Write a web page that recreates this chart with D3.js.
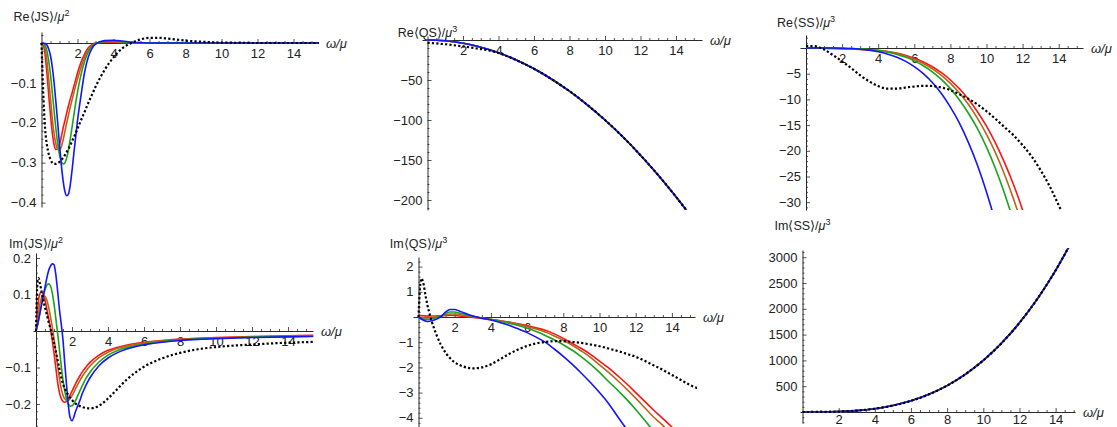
<!DOCTYPE html>
<html><head><meta charset="utf-8">
<script src="https://cdn.jsdelivr.net/npm/d3@7"></script>
<style>
body{margin:0;background:#fff;}
svg text{font-family:"Liberation Sans",Arial,sans-serif;}
</style></head><body>
<svg id="c" width="1117" height="427"></svg>
<script>
// ---------- DATA ----------
// Re<JS>/mu^2
const wReJS = [0,0.1,0.2,0.3,0.4,0.5,0.6,0.7,0.8,0.9,1.0,1.1,1.2,1.3,1.4,1.5,1.6,1.7,1.8,1.9,2.0,2.2,2.4,2.6,2.8,3.0,3.5,4,4.5,5,5.5,6,6.5,7,8,9,10,12,15.4];
const reJS_red   = [0,-0.005,-0.03,-0.075,-0.13,-0.18,-0.225,-0.255,-0.267,-0.266,-0.255,-0.235,-0.213,-0.195,-0.175,-0.157,-0.14,-0.125,-0.108,-0.092,-0.075,-0.048,-0.027,-0.012,-0.004,0.0,0.002,0.002,0.001,0,0,0,0,0,0,0,0,0,0];
const reJS_brown = [0,-0.002,-0.015,-0.045,-0.09,-0.14,-0.19,-0.228,-0.253,-0.266,-0.268,-0.26,-0.243,-0.222,-0.2,-0.18,-0.16,-0.142,-0.124,-0.106,-0.09,-0.06,-0.035,-0.018,-0.007,-0.001,0.003,0.003,0.002,0.001,0,0,0,0,0,0,0,0,0];
const reJS_green = [0,-0.001,-0.006,-0.02,-0.045,-0.08,-0.125,-0.17,-0.215,-0.252,-0.28,-0.297,-0.303,-0.3,-0.288,-0.267,-0.24,-0.21,-0.18,-0.15,-0.123,-0.078,-0.045,-0.022,-0.009,-0.002,0.004,0.005,0.003,0.001,0,0,0,0,0,0,0,0,0];
const reJS_blue  = [0,0,-0.001,-0.005,-0.015,-0.032,-0.06,-0.1,-0.148,-0.2,-0.255,-0.305,-0.345,-0.372,-0.383,-0.378,-0.355,-0.318,-0.275,-0.235,-0.195,-0.13,-0.072,-0.035,-0.014,-0.003,0.006,0.007,0.005,0.002,0.001,0,0,0,0,0,0,0,0];
const reJS_black = [0,-0.13,-0.215,-0.255,-0.278,-0.292,-0.3,-0.303,-0.303,-0.301,-0.298,-0.293,-0.288,-0.281,-0.273,-0.265,-0.256,-0.246,-0.236,-0.226,-0.215,-0.193,-0.172,-0.15,-0.13,-0.11,-0.068,-0.036,-0.013,0.0,0.009,0.013,0.013,0.011,0.006,0.003,0.001,0,0];

// Re<QS>/mu^3
const wReQS = [0,0.5,1,1.5,2,2.5,3,3.5,4,5,6,7,8,9,10,11,12,13,14,15,15.4];
const reQS_solid = [0,-0.25,-1,-2.25,-4,-6.25,-9,-12.25,-16,-25,-36,-49,-64,-81,-100,-121,-144,-169,-196,-225,-237];
const reQS_black = [-3.5,-4.3,-5.3,-6.6,-8.0,-9.6,-11.3,-13.2,-16.2,-25.1,-36,-49,-64,-81,-100,-121,-144,-169,-196,-225,-237];

// Re<SS>/mu^3
const wReSS = [0,0.5,1,1.5,2,2.5,3,3.5,4,4.5,5,5.5,6,6.5,7,7.5,8,8.5,9,9.5,10,10.5,11,11.5,12,12.5,13,13.5,14,14.5,15,15.5];
const reSS_red   = [0,-0.02,-0.06,-0.1,-0.15,-0.2,-0.26,-0.35,-0.48,-0.68,-0.98,-1.4,-1.97,-2.71,-3.65,-4.81,-6.23,-7.93,-9.97,-12.4,-15.2,-18.5,-22.3,-26.6,-31.5,-37.1,-43.4,-50.5,-58.4,-67.2,-77,-87.8];
const reSS_brown = [0,-0.02,-0.05,-0.08,-0.12,-0.17,-0.23,-0.33,-0.47,-0.71,-1.05,-1.54,-2.18,-3.0,-4.03,-5.32,-6.88,-8.77,-11.0,-13.7,-16.8,-20.4,-24.6,-29.4,-34.8,-41,-48,-55.8,-64.5,-74.3,-85,-97];
const reSS_green = [0,-0.01,-0.02,-0.04,-0.07,-0.11,-0.17,-0.29,-0.49,-0.79,-1.21,-1.77,-2.5,-3.45,-4.63,-6.11,-7.9,-10.1,-12.7,-15.7,-19.3,-23.5,-28.3,-33.8,-40,-47.1,-55.1,-64,-74,-85,-97.7,-111];
const reSS_blue  = [0,0,0,-0.01,-0.04,-0.1,-0.23,-0.42,-0.72,-1.15,-1.75,-2.56,-3.63,-5.0,-6.72,-8.86,-11.5,-14.6,-18.4,-22.8,-28.0,-34.0,-41.0,-49,-58,-68,-80,-93,-108,-124,-142,-161];
const reSS_black = [0.4,0.35,-0.3,-1.4,-2.6,-3.9,-5.3,-6.5,-7.4,-7.9,-7.9,-7.7,-7.5,-7.35,-7.4,-7.7,-8.2,-9.0,-9.9,-11,-12.3,-13.8,-15.4,-17,-18.9,-21.1,-23.8,-26.9,-30.6,-34.5,-39,-44];

// Im<JS>/mu^2
const wImJS = [0,0.05,0.1,0.15,0.2,0.3,0.4,0.5,0.6,0.7,0.8,0.9,1.0,1.1,1.2,1.3,1.4,1.5,1.6,1.7,1.8,1.9,2.0,2.2,2.4,2.6,2.8,3.0,3.5,4,4.5,5,6,7,8,9,10,12,14,15.4];
const imJS_red   = [0,0.035,0.065,0.088,0.1,0.107,0.1,0.085,0.06,0.035,0.008,-0.025,-0.06,-0.1,-0.14,-0.168,-0.185,-0.193,-0.195,-0.192,-0.185,-0.175,-0.165,-0.144,-0.126,-0.11,-0.097,-0.086,-0.066,-0.053,-0.045,-0.039,-0.031,-0.026,-0.022,-0.02,-0.018,-0.015,-0.013,-0.012];
const imJS_brown = [0,0.018,0.035,0.053,0.07,0.09,0.097,0.095,0.085,0.065,0.04,0.012,-0.02,-0.055,-0.095,-0.13,-0.158,-0.176,-0.186,-0.19,-0.19,-0.185,-0.177,-0.158,-0.139,-0.122,-0.108,-0.096,-0.073,-0.058,-0.048,-0.042,-0.033,-0.027,-0.023,-0.021,-0.019,-0.016,-0.014,-0.013];
const imJS_green = [0,0.01,0.02,0.032,0.045,0.07,0.095,0.113,0.125,0.129,0.124,0.105,0.075,0.035,-0.005,-0.05,-0.095,-0.135,-0.165,-0.188,-0.2,-0.206,-0.205,-0.19,-0.168,-0.147,-0.128,-0.113,-0.085,-0.066,-0.054,-0.046,-0.036,-0.029,-0.025,-0.022,-0.02,-0.017,-0.015,-0.014];
const imJS_blue  = [0,0.01,0.02,0.032,0.045,0.07,0.095,0.12,0.145,0.165,0.178,0.184,0.182,0.155,0.11,0.06,0.02,-0.025,-0.09,-0.15,-0.205,-0.238,-0.246,-0.22,-0.195,-0.168,-0.146,-0.128,-0.095,-0.074,-0.06,-0.05,-0.038,-0.031,-0.026,-0.023,-0.021,-0.018,-0.016,-0.015];
const imJS_black = [0,0.1,0.14,0.145,0.135,0.11,0.085,0.065,0.045,0.025,0.007,-0.012,-0.033,-0.055,-0.08,-0.104,-0.127,-0.145,-0.158,-0.168,-0.176,-0.183,-0.189,-0.199,-0.205,-0.209,-0.211,-0.212,-0.205,-0.185,-0.16,-0.135,-0.098,-0.075,-0.06,-0.05,-0.044,-0.037,-0.032,-0.03];

// Im<QS>/mu^3
const wImQS = [0,0.25,0.5,0.75,1,1.25,1.5,1.75,2,2.25,2.5,2.75,3,3.5,4,4.5,5,5.5,6,6.5,7,7.5,8,8.5,9,9.5,10,10.5,11,11.5,12,12.5,13,13.5,14,14.5,15,15.5];
const imQS_red   = [0.06,0.05,0.04,0.04,0.04,0.05,0.06,0.07,0.06,0.04,0.02,0,-0.02,-0.06,-0.1,-0.15,-0.2,-0.27,-0.34,-0.43,-0.53,-0.67,-0.85,-1.05,-1.25,-1.48,-1.75,-2.02,-2.33,-2.65,-3.0,-3.35,-3.7,-4.03,-4.37,-4.75,-5.15,-5.6];
const imQS_brown = [0,-0.03,-0.04,-0.02,0,0.04,0.09,0.12,0.12,0.1,0.07,0.04,0.01,-0.04,-0.09,-0.15,-0.21,-0.29,-0.38,-0.48,-0.6,-0.75,-0.92,-1.12,-1.35,-1.6,-1.9,-2.2,-2.52,-2.86,-3.22,-3.6,-3.98,-4.3,-4.75,-5.2,-5.7,-6.2];
const imQS_green = [0,-0.08,-0.1,-0.07,-0.02,0.05,0.14,0.2,0.2,0.16,0.12,0.07,0.03,-0.04,-0.1,-0.17,-0.25,-0.34,-0.45,-0.58,-0.73,-0.9,-1.1,-1.32,-1.58,-1.87,-2.2,-2.56,-2.9,-3.27,-3.67,-4.1,-4.55,-5.05,-5.6,-6.2,-6.8,-7.4];
const imQS_blue  = [0,-0.12,-0.18,-0.15,-0.08,0.02,0.2,0.3,0.3,0.24,0.17,0.1,0.04,-0.05,-0.12,-0.22,-0.33,-0.47,-0.62,-0.8,-1.0,-1.27,-1.56,-1.88,-2.23,-2.6,-3.0,-3.43,-3.95,-4.45,-5.0,-5.6,-6.2,-6.9,-7.6,-8.4,-9.2,-10];
const wImQS_black = [0,0.1,0.17,0.25,0.4,0.5,0.66,0.75,1,1.25,1.5,1.75,2,2.25,2.5,2.75,3,3.5,4,4.5,5,5.5,6,6.5,7,7.5,8,8.5,9,9.5,10,10.5,11,11.5,12,12.5,13,13.5,14,14.5,15,15.5];
const imQS_black = [0,1.3,1.53,1.4,0.8,0.45,0,-0.22,-0.72,-1.12,-1.42,-1.64,-1.8,-1.9,-1.97,-2.02,-2.04,-2.0,-1.88,-1.68,-1.47,-1.29,-1.15,-1.05,-0.99,-0.96,-0.96,-0.99,-1.03,-1.09,-1.16,-1.25,-1.35,-1.46,-1.58,-1.74,-1.92,-2.1,-2.3,-2.5,-2.7,-2.85];

// Im<SS>/mu^3
const wImSS = [0,1,2,3,4,5,6,7,8,9,10,11,12,13,14,15];
const imSS_solid = [0,1,8,27,64,125,216,343,512,729,1000,1331,1728,2197,2744,3375];
const imSS_black = [0,1,8,27,64,125,216,343,512,729,1000,1331,1728,2197,2744,3375];

const xMajor = [2,4,6,8,10,12,14];

// ---------- STYLE / LAYOUT ----------
const COL = {red:"#ff1414", brown:"#b8651c", green:"#1ca31c", blue:"#1414ff", black:"#000"};
const fmt1 = d3.format(".1f"), fmt0 = d3.format("d");

const panels = [
 {t:"Re⟨JS⟩/", p:"2", x0:41.5,kx:18,xa:40,xb:318, y0:43,ky:399,ya:32,yb:207, tb:21, pad:6,
  yMajor:[-0.4,-0.3,-0.2,-0.1], yStep:0.02, fmt:fmt1,
  s:[[wReJS,reJS_red,"red"],[wReJS,reJS_brown,"brown"],[wReJS,reJS_green,"green"],[wReJS,reJS_blue,"blue"],[wReJS,reJS_black,"black"]]},
 {t:"Re⟨QS⟩/", p:"3", x0:427.5,kx:17.75,xa:422,xb:702, y0:40,ky:0.8,ya:36,yb:210, tb:37, pad:6,
  yMajor:[-200,-150,-100,-50], yStep:10, fmt:fmt0,
  s:[[wReQS,reQS_solid,"red"],[wReQS,reQS_solid,"brown"],[wReQS,reQS_solid,"green"],[wReQS,reQS_solid,"blue"],[wReQS,reQS_black,"black"]]},
 {t:"Re⟨SS⟩/", p:"3", x0:806,kx:18.05,xa:800,xb:1083, y0:48,ky:5.14,ya:35,yb:210, tb:27, pad:6,
  yMajor:[-30,-25,-20,-15,-10,-5], yStep:1, fmt:fmt0,
  s:[[wReSS,reSS_red,"red"],[wReSS,reSS_brown,"brown"],[wReSS,reSS_green,"green"],[wReSS,reSS_blue,"blue"],[wReSS,reSS_black,"black"]]},
 {t:"Im⟨JS⟩/", p:"2", x0:36,kx:18,xa:33,xb:313, y0:331,ky:365,ya:253,yb:427, tb:248, pad:6,
  yMajor:[-0.2,-0.1,0.1,0.2], yStep:0.02, fmt:fmt1,
  s:[[wImJS,imJS_red,"red"],[wImJS,imJS_brown,"brown"],[wImJS,imJS_green,"green"],[wImJS,imJS_blue,"blue"],[wImJS,imJS_black,"black"]]},
 {t:"Im⟨QS⟩/", p:"3", x0:418.5,kx:18.1,xa:413,xb:695, y0:317,ky:25.2,ya:257,yb:427, tb:248, pad:6,
  yMajor:[-4,-3,-2,-1,1,2], yStep:0.2, fmt:fmt0,
  s:[[wImQS,imQS_red,"red"],[wImQS,imQS_brown,"brown"],[wImQS,imQS_green,"green"],[wImQS,imQS_blue,"blue"],[wImQS_black,imQS_black,"black"]]},
 {t:"Im⟨SS⟩/", p:"3", x0:802.5,kx:18.08,xa:800,xb:1075, y0:412,ky:0.0516,ya:250,yb:423, tb:230, pad:3,
  yMajor:[500,1000,1500,2000,2500,3000], yStep:100, fmt:fmt0,
  s:[[wImSS,imSS_solid,"red"],[wImSS,imSS_solid,"brown"],[wImSS,imSS_solid,"green"],[wImSS,imSS_solid,"blue"],[wImSS,imSS_black,"black"]]}
];

const svg = d3.select("#c");
svg.append("rect").attr("width",1117).attr("height",427).attr("fill","#fff");
const defs = svg.append("defs");

function stepsIn(lo, hi, step, exclude){
  const n0 = Math.ceil(lo/step - 1e-9), n1 = Math.floor(hi/step + 1e-9);
  return d3.range(n0, n1+1).map(i => +(i*step).toFixed(6))
    .filter(v => v !== 0 && !exclude.some(e => Math.abs(e - v) < step/10));
}

panels.forEach((P, idx) => {
  const x = d3.scaleLinear().domain([(P.xa-P.x0)/P.kx, (P.xb-P.x0)/P.kx]).range([P.xa, P.xb]);
  const y = d3.scaleLinear().domain([(P.y0-P.yb)/P.ky, (P.y0-P.ya)/P.ky]).range([P.yb, P.ya]);
  const g = svg.append("g").attr("color","#2a2a2a");

  // minor ticks
  const xMin = stepsIn(0, x.domain()[1], 0.5, xMajor);
  const yMin = stepsIn(y.domain()[0], y.domain()[1], P.yStep, P.yMajor);
  g.append("g").attr("transform",`translate(0,${y(0)})`)
    .call(d3.axisBottom(x).tickValues(xMin).tickSizeInner(-2).tickSizeOuter(0).tickFormat(""))
    .call(a => a.select(".domain").remove());
  g.append("g").attr("transform",`translate(${x(0)},0)`)
    .call(d3.axisLeft(y).tickValues(yMin).tickSizeInner(-2).tickSizeOuter(0).tickFormat(""))
    .call(a => a.select(".domain").remove());

  // major axes
  const gx = g.append("g").attr("transform",`translate(0,${y(0)})`)
    .call(d3.axisBottom(x).tickValues(xMajor).tickSizeInner(-4).tickSizeOuter(0).tickPadding(P.pad).tickFormat(fmt0));
  const gy = g.append("g").attr("transform",`translate(${x(0)},0)`)
    .call(d3.axisLeft(y).tickValues(P.yMajor).tickSizeInner(-4).tickSizeOuter(0).tickPadding(5).tickFormat(P.fmt));
  [gx, gy].forEach(a => {
    a.selectAll("text").attr("font-size", 13).attr("fill","#222").attr("font-family","Liberation Sans, Arial, sans-serif");
    a.select(".domain").attr("stroke-width",1);
  });
  g.selectAll(".tick line").attr("stroke-width",0.8);

  // clip
  const cid = "clip"+idx;
  defs.append("clipPath").attr("id",cid).append("rect")
    .attr("x",P.xa).attr("y",P.ya-2).attr("width",P.xb-P.xa+2).attr("height",P.yb-P.ya+2);

  const gc = svg.append("g").attr("clip-path",`url(#${cid})`);
  P.s.forEach(([w, v, c]) => {
    const line = d3.line().x((d,i) => x(w[i])).y(d => y(d)).curve(d3.curveMonotoneX);
    gc.append("path").datum(v).attr("d", line).attr("fill","none")
      .attr("stroke", COL[c])
      .attr("stroke-width", c === "black" ? 2.2 : 1.6)
      .attr("stroke-dasharray", c === "black" ? "2.2,2.2" : null)
      .attr("stroke-linejoin","round");
  });

  // title
  const t = svg.append("text").attr("x", P.x0).attr("y", P.tb).attr("text-anchor","middle")
    .attr("font-size", 12.5).attr("fill","#222");
  t.append("tspan").text(P.t);
  t.append("tspan").attr("font-style","italic").text("μ");
  t.append("tspan").attr("dy",-5).attr("font-size",9).text(P.p);

  // x label
  svg.append("text").attr("x", P.xb + 8).attr("y", y(0)).attr("dy","0.35em")
    .attr("font-size", 13).attr("font-style","italic").attr("fill","#222").text("ω/μ");
});
</script>
</body></html>
